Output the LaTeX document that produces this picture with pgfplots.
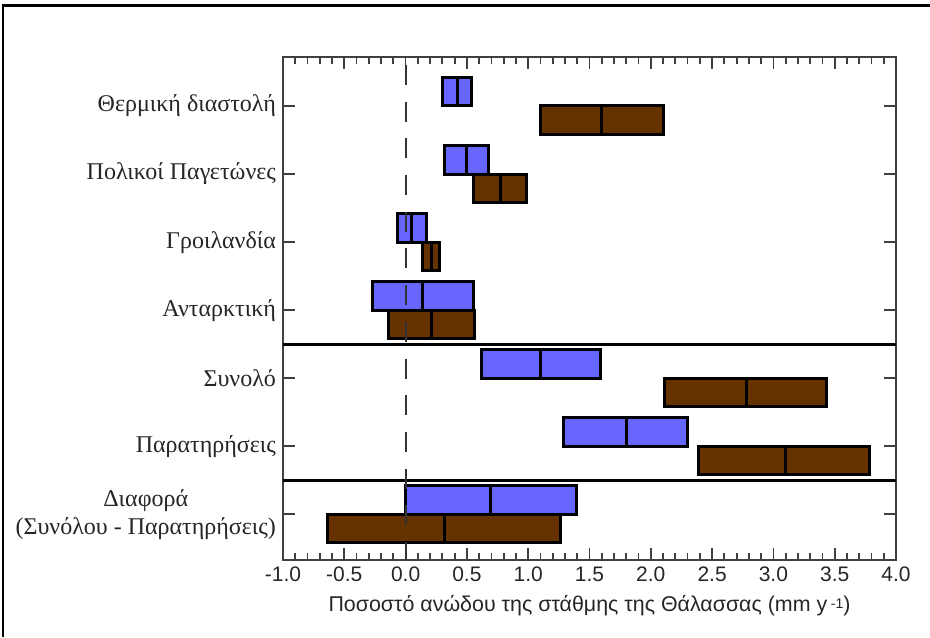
\documentclass[border=0pt]{standalone}
\usepackage{fontspec}
\setmainfont{Liberation Serif}
\setsansfont{Liberation Sans}
\usepackage{pgfplots}
\pgfplotsset{compat=1.18}
\definecolor{bblue}{HTML}{6666FF}
\definecolor{bbrown}{HTML}{663300}
% colour, low, median, high, y-bottom, y-top
\newcommand{\rbox}[6]{%
  \addplot[draw=black, line width=1.5pt, line join=miter, fill=#1] coordinates {(#2,#5) (#4,#5) (#4,#6) (#2,#6)} -- cycle;
  \addplot[black, line width=1.5pt] coordinates {(#3,#5) (#3,#6)};
}
\begin{document}
\begin{tikzpicture}
\useasboundingbox (-141.5pt,-38.5pt) rectangle (323.5pt,280pt);
\draw[line width=1.2pt, black] (-140pt,-38.5pt) -- (-140pt,277.25pt) -- (323.5pt,277.25pt);
\begin{axis}[
  at={(0pt,0pt)}, anchor=south west,
  scale only axis, width=306.5pt, height=251.5pt,
  xmin=-1, xmax=4, ymin=-0.67, ymax=6.72,
  clip=false,
  xtick={-1,-0.5,0,0.5,1,1.5,2,2.5,3,3.5,4},
  minor xtick={-0.9,-0.8,-0.7,-0.6,-0.4,-0.3,-0.2,-0.1,0.1,0.2,0.3,0.4,0.6,0.7,0.8,0.9,1.1,1.2,1.3,1.4,1.6,1.7,1.8,1.9,2.1,2.2,2.3,2.4,2.6,2.7,2.8,2.9,3.1,3.2,3.3,3.4,3.6,3.7,3.8,3.9},
  ytick={0,1,2,3,4,5,6},
  yticklabels={{Διαφορά\\(Συνόλου - Παρατηρήσεις)},{Παρατηρήσεις},{Συνολό},{Ανταρκτική},{Γροιλανδία},{Πολικοί Παγετώνες},{Θερμική διαστολή}},
  tick align=inside,
  xtick pos=both, ytick pos=both,
  major tick length=6pt, minor tick length=3.5pt,
  axis line style={line width=1pt, black!75},
  xtick style={line width=0.9pt, draw=black!75},
  ytick style={line width=0.9pt, draw=black!75},
  xticklabel style={font=\sffamily\fontsize{10.5}{12}\selectfont, text=black!85, /pgf/number format/fixed, /pgf/number format/fixed zerofill, /pgf/number format/precision=1, /pgf/number format/assume math mode=true},
  yticklabel style={font=\rmfamily\fontsize{12}{14}\selectfont, align=center, text=black!85},
  xlabel={Ποσοστό ανώδου της στάθμης της Θάλασσας (mm y\,{\fontsize{7}{8}\selectfont\raisebox{0.5ex}{-1}})},
  xlabel style={font=\sffamily\fontsize{10.7}{13}\selectfont, text=black!85},
]
% tick marks on bottom and top edges
\pgfplotsinvokeforeach{-1,-0.5,0,0.5,1,1.5,2,2.5,3,3.5,4}{
  \draw[line width=0.9pt, black!75] (axis cs:#1,-0.67) -- ++(0pt,6pt);
  \draw[line width=0.9pt, black!75] (axis cs:#1,6.72) -- ++(0pt,-6pt);
}
\pgfplotsinvokeforeach{-0.9,-0.8,-0.7,-0.6,-0.4,-0.3,-0.2,-0.1,0.1,0.2,0.3,0.4,0.6,0.7,0.8,0.9,1.1,1.2,1.3,1.4,1.6,1.7,1.8,1.9,2.1,2.2,2.3,2.4,2.6,2.7,2.8,2.9,3.1,3.2,3.3,3.4,3.6,3.7,3.8,3.9}{
  \draw[line width=0.9pt, black!75] (axis cs:#1,-0.67) -- ++(0pt,3.5pt);
  \draw[line width=0.9pt, black!75] (axis cs:#1,6.72) -- ++(0pt,-3.5pt);
}
% Thermal expansion (y=6)
\rbox{bblue}{0.30}{0.42}{0.54}{6}{6.42}
\rbox{bbrown}{1.10}{1.60}{2.10}{5.58}{6}
% Glaciers (y=5)
\rbox{bblue}{0.32}{0.50}{0.68}{5}{5.42}
\rbox{bbrown}{0.55}{0.77}{0.99}{4.58}{5}
% Greenland (y=4)
\rbox{bblue}{-0.07}{0.05}{0.17}{4}{4.42}
\rbox{bbrown}{0.14}{0.21}{0.28}{3.58}{4}
% Antarctica (y=3)
\rbox{bblue}{-0.27}{0.14}{0.55}{3}{3.42}
\rbox{bbrown}{-0.14}{0.21}{0.56}{2.58}{3}
% Sum (y=2)
\rbox{bblue}{0.62}{1.10}{1.59}{2}{2.42}
\rbox{bbrown}{2.11}{2.78}{3.43}{1.58}{2}
% Observed (y=1)
\rbox{bblue}{1.29}{1.80}{2.30}{1}{1.42}
\rbox{bbrown}{2.39}{3.10}{3.78}{0.58}{1}
% Difference (y=0)
\rbox{bblue}{0.00}{0.69}{1.39}{0}{0.42}
\rbox{bbrown}{-0.64}{0.32}{1.26}{-0.42}{0}
% separators
\addplot[black, line width=1.5pt] coordinates {(-1,2.5) (4,2.5)};
\addplot[black, line width=1.5pt] coordinates {(-1,0.5) (4,0.5)};
% zero line
\addplot[black!80, line width=1pt, dash pattern=on 10pt off 8.35pt, dash phase=14.35pt] coordinates {(0,6.72) (0,-0.67)};
\end{axis}
\end{tikzpicture}
\end{document}
